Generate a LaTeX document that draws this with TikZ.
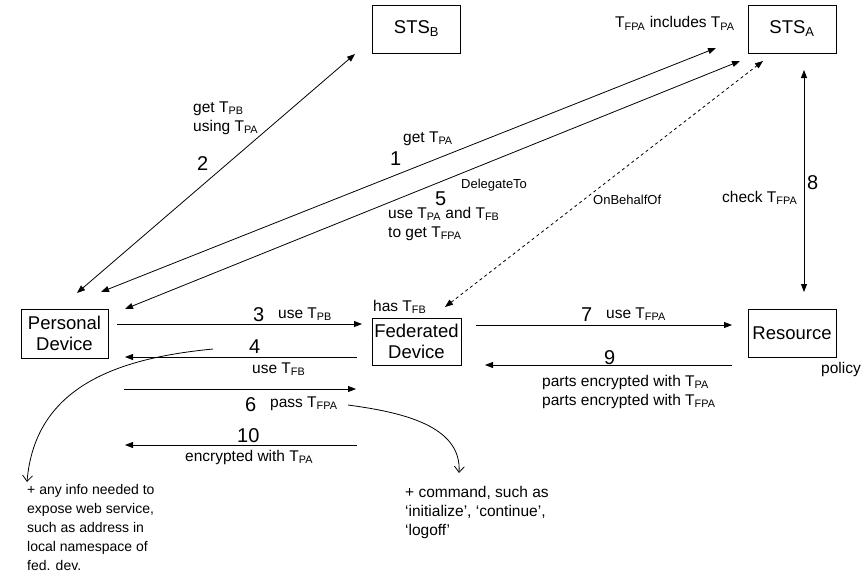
\documentclass[tikz,border=0pt]{standalone}
\usepackage{fontspec}
\setmainfont{Liberation Sans}
\usetikzlibrary{arrows.meta}
\newcommand\tsub[1]{\textsubscript{#1}}
\begin{document}
\begin{tikzpicture}[x=1pt,y=-1pt,
  boxnode/.style={draw, line width=0.8pt, font=\fontsize{18.5}{21.5}\selectfont, align=center, inner sep=0pt, minimum width=88pt, minimum height=48pt},
  lbl/.style={font=\fontsize{15.5}{19}\selectfont, inner sep=0pt, anchor=base west, align=left},
  smalllbl/.style={font=\fontsize{13}{15}\selectfont, inner sep=0pt, anchor=base west},
  numlbl/.style={font=\fontsize{20}{24}\selectfont, inner sep=0pt, anchor=base west},
  notelbl/.style={font=\fontsize{14}{18.8}\selectfont, inner sep=0pt, anchor=base west, align=left},
  conn/.style={line width=0.8pt},
  tip/.tip={Triangle[length=8pt,width=6pt]},
  opentip/.tip={Straight Barb[length=6pt,width=10pt]}
]
\useasboundingbox (0,0) rectangle (861,586);

% boxes
\node[boxnode] (stsb) at (416.5,29) {STS\tsub{B}};
\node[boxnode] (stsa) at (792,29) {STS\tsub{A}};
\node[boxnode, minimum width=87pt, minimum height=49pt] (pd) at (64.5,333.5) {Personal\\Device};
\node[boxnode, minimum width=89pt, minimum height=47pt] (fd) at (416.5,341.5) {Federated\\Device};
\node[boxnode] (res) at (792,333) {Resource};

% connector endpoints
\coordinate (a2p) at (77,293);   \coordinate (a2s) at (355,54);
\coordinate (a1p) at (101,292);  \coordinate (a1s) at (716,48);
\coordinate (a5p) at (125,309);  \coordinate (a5s) at (740,61);
\coordinate (dfd) at (445,307);  \coordinate (dsa) at (763,61);
\coordinate (a8t) at (804,70);   \coordinate (a8b) at (804,292);
\coordinate (a3s) at (117,324);  \coordinate (a3e) at (362,324);
\coordinate (a4s) at (357,357);  \coordinate (a4e) at (125,357);
\coordinate (a6s) at (124,389);  \coordinate (a6e) at (356,389);
\coordinate (a10s) at (357,445); \coordinate (a10e) at (125,445);
\coordinate (a7s) at (476,325);  \coordinate (a7e) at (732,325);
\coordinate (a9s) at (732,365);  \coordinate (a9e) at (485,365);
\coordinate (c1s) at (213,349);  \coordinate (c1e) at (27,482);
\coordinate (c2s) at (348,405);  \coordinate (c2e) at (459,473);

% connectors
\draw[conn, tip-tip] (a2p) -- (a2s);
\draw[conn, tip-tip] (a1p) -- (a1s);
\draw[conn, tip-tip] (a5p) -- (a5s);
\draw[conn, tip-tip, dash pattern=on 3pt off 3pt] (dfd) -- (dsa);
\draw[conn, tip-tip] (a8t) -- (a8b);
\draw[conn, -tip] (a3s) -- (a3e);
\draw[conn, -tip] (a4s) -- (a4e);
\draw[conn, -tip] (a6s) -- (a6e);
\draw[conn, -tip] (a10s) -- (a10e);
\draw[conn, -tip] (a7s) -- (a7e);
\draw[conn, -tip] (a9s) -- (a9e);
\draw[conn, -opentip] (c1s) .. controls (120,358) and (35,385) .. (c1e);
\draw[conn, -opentip] (c2s) .. controls (400,412) and (462,425) .. (c2e);

% labels (multi-line nodes: base = last line)
\node[lbl] (l2) at (193,131) {get T\tsub{PB}\\using T\tsub{PA}};
\node[numlbl] (n2) at (197,170) {2};
\node[lbl] (l1) at (403,142) {get T\tsub{PA}};
\node[numlbl] (n1) at (390,165) {1};
\node[numlbl] (n5) at (435,205) {5};
\node[smalllbl] (ldel) at (461,188) {DelegateTo};
\node[lbl] (l5) at (388,237) {use T\tsub{PA} and T\tsub{FB}\\to get T\tsub{FPA}};
\node[smalllbl] (lobo) at (593,204) {OnBehalfOf};
\node[lbl] (linc) at (615,28) {T\tsub{FPA} includes T\tsub{PA}};
\node[lbl] (lchk) at (722,202) {check T\tsub{FPA}};
\node[numlbl] (n8) at (807,189) {8};
\node[numlbl] (n3) at (253,321) {3};
\node[lbl] (l3) at (278,318) {use T\tsub{PB}};
\node[lbl] (lhas) at (373,311) {has T\tsub{FB}};
\node[numlbl] (n4) at (249,353) {4};
\node[lbl] (l4) at (252,373) {use T\tsub{FB}};
\node[numlbl] (n6) at (245,411) {6};
\node[lbl] (l6) at (270,407) {pass T\tsub{FPA}};
\node[numlbl] (n10) at (237,442) {10};
\node[lbl] (l10) at (185,461) {encrypted with T\tsub{PA}};
\node[numlbl] (n7) at (581,321) {7};
\node[lbl] (l7) at (606,318) {use T\tsub{FPA}};
\node[numlbl] (n9) at (604,364) {9};
\node[lbl] (l9) at (542,405) {parts encrypted with T\tsub{PA}\\parts encrypted with T\tsub{FPA}};
\node[lbl] (lpol) at (821,373) {policy};
\node[notelbl] (note1) at (27,570) {+ any info needed to\\expose web service,\\such as address in\\local namespace of\\fed. dev.};
\node[lbl] (note2) at (405,535) {+ command, such as\\‘initialize’, ‘continue’,\\‘logoff’};
\end{tikzpicture}
\end{document}
